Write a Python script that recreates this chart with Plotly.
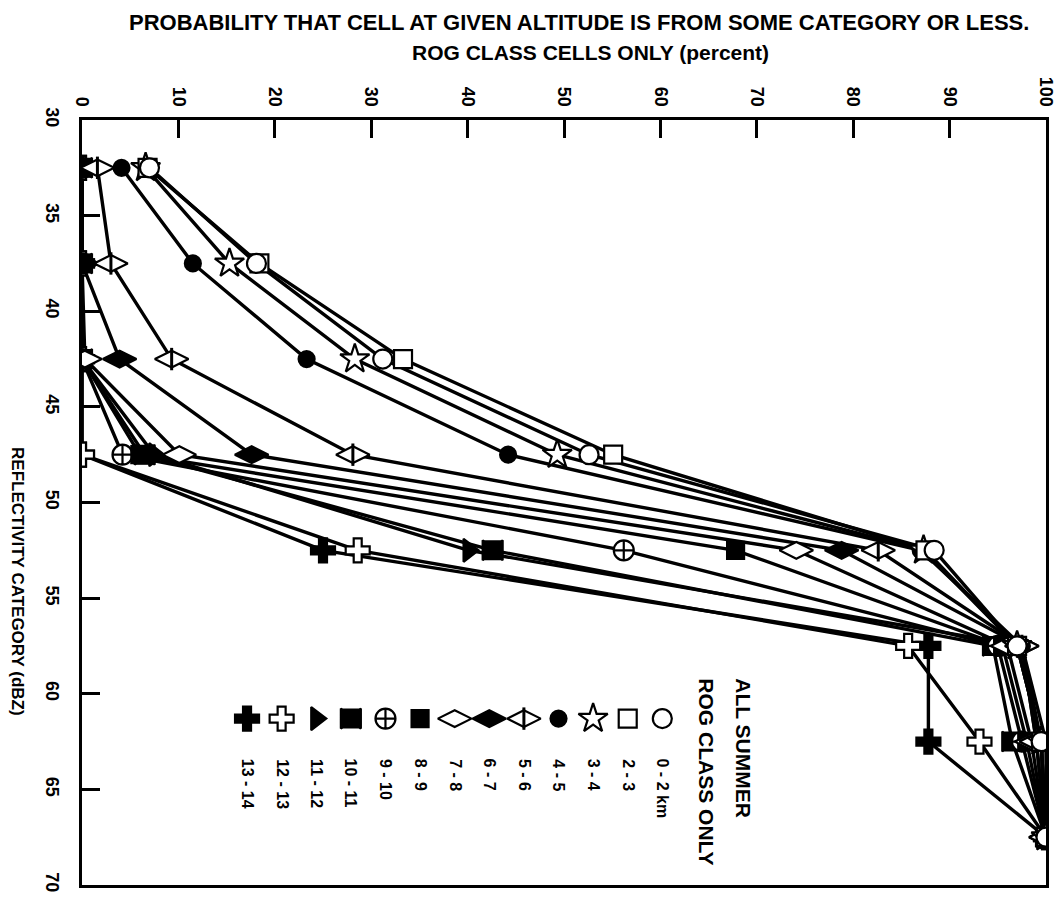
import plotly.graph_objects as go

# ---------------- data ----------------
dbz = [32.5, 37.5, 42.5, 47.5, 52.5, 57.5, 62.5, 67.5]
alt_labels = ["0 - 2 km", "2 - 3", "3 - 4", "4 - 5", "5 - 6", "6 - 7", "7 - 8",
              "8 - 9", "9 - 10", "10 - 11", "11 - 12", "12 - 13", "13 - 14"]
p_0_2   = [7.0, 18.1, 31.2, 52.6, 88.4, 97.0, 99.5, 100]
p_2_3   = [6.8, 18.4, 33.3, 55.1, 87.5, 97.0, 99.5, 100]
p_3_4   = [6.6, 15.3, 28.3, 49.3, 87.3, 97.0, 99.5, 100]
p_4_5   = [4.1, 11.5, 23.3, 44.2, 87.0, 97.5, 99.5, 100]
p_5_6   = [1.6, 3.0, 9.3, 28.1, 82.6, 97.5, 99.0, 100]
p_6_7   = [0.0, 0.0, 3.9, 17.6, 78.8, 97.5, 99.0, 100]
p_7_8   = [0.0, 0.0, 0.3, 10.1, 74.1, 96.0, 98.5, 100]
p_8_9   = [0.0, 0.0, 0.0, 6.0, 67.8, 95.5, 98.0, 100]
p_9_10  = [0.0, 0.0, 0.0, 4.2, 56.2, 95.0, 97.5, 100]
p_10_11 = [0.0, 0.0, 0.0, 6.5, 42.6, 94.5, 96.5, 100]
p_11_12 = [0.0, 0.0, 0.0, 7.5, 40.1, 97.5, 100.0, 100]
p_12_13 = [0.0, 0.0, 0.0, 0.0, 28.6, 85.7, 93.1, 100]
p_13_14 = [0.0, 0.0, 0.0, 0.0, 25.0, 87.8, 87.8, 100]
x_ticks = [0, 10, 20, 30, 40, 50, 60, 70, 80, 90, 100]
y_ticks = [30, 35, 40, 45, 50, 55, 60, 65, 70]

series = [p_0_2, p_2_3, p_3_4, p_4_5, p_5_6, p_6_7, p_7_8,
          p_8_9, p_9_10, p_10_11, p_11_12, p_12_13, p_13_14]

# ---------------- styles ----------------
BLK = "black"
WHT = "white"
# (symbol, fill, size, overlay-symbol or None)
styles = [
    ("circle", WHT, 19, None),
    ("square", WHT, 18, None),
    ("star", WHT, 22, None),
    ("circle", BLK, 16, None),
    ("diamond-wide", WHT, 24, "line-ns"),
    ("diamond-wide", BLK, 24, None),
    ("diamond-wide", WHT, 24, None),
    ("square", BLK, 17, None),
    ("circle-cross", WHT, 20, None),
    ("bowtie", BLK, 20, "hourglass"),
    ("triangle-right", BLK, 20, None),
    ("cross", WHT, 20, None),
    ("cross", BLK, 20, None),
]

FONT = "Liberation Sans, Arial, Helvetica, sans-serif"

fig = go.Figure()

# lines first (all series), then markers on top
for vals in reversed(series):
    fig.add_trace(go.Scatter(x=vals, y=dbz, mode="lines",
                             line=dict(color=BLK, width=3.4),
                             showlegend=False, hoverinfo="skip"))


def add_markers(xs, ys, st):
    sym, fill, size, over = st
    fig.add_trace(go.Scatter(x=xs, y=ys, mode="markers",
                             marker=dict(symbol=sym, color=fill, size=size,
                                         line=dict(color=BLK, width=2.2)),
                             showlegend=False, hoverinfo="skip"))
    if over == "line-ns":
        fig.add_trace(go.Scatter(x=xs, y=ys, mode="markers",
                                 marker=dict(symbol="line-ns-open", color=BLK, size=16,
                                             line=dict(color=BLK, width=3)),
                                 showlegend=False, hoverinfo="skip"))
    elif over:
        fig.add_trace(go.Scatter(x=xs, y=ys, mode="markers",
                                 marker=dict(symbol=over, color=BLK, size=size,
                                             line=dict(color=BLK, width=0)),
                                 showlegend=False, hoverinfo="skip"))


for vals, st in zip(reversed(series), reversed(styles)):
    add_markers(vals, dbz, st)

# ---------------- hand-drawn legend (rotated, like the original) ----------------
LEG_X_FIRST = 60.2     # percent position of first entry (0 - 2 km)
LEG_STEP = 3.59        # percent spacing between entries
LEG_Y_MARK = 61.3      # dBZ row of legend markers
LEG_Y_TEXT = 63.3      # dBZ where legend labels start
LEG_Y_HEAD = 59.1      # dBZ where legend heading starts

for i, (lab, st) in enumerate(zip(alt_labels, styles)):
    lx = LEG_X_FIRST - i * LEG_STEP
    add_markers([lx], [LEG_Y_MARK], st)
    fig.add_annotation(x=lx, y=LEG_Y_TEXT, xref="x", yref="y", text="<b>" + lab + "</b>",
                       textangle=90, showarrow=False, xanchor="center", yanchor="top",
                       font=dict(family=FONT, size=16, color=BLK))

for txt, hx in [("<b>ALL SUMMER</b>", 68.6), ("<b>ROG CLASS ONLY</b>", 64.8)]:
    fig.add_annotation(x=hx, y=LEG_Y_HEAD, xref="x", yref="y", text=txt,
                       textangle=90, showarrow=False, xanchor="center", yanchor="top",
                       font=dict(family=FONT, size=21, color=BLK))

# ---------------- titles ----------------
fig.add_annotation(x=0.516, y=1.1462, xref="paper", yref="paper",
                   text="<b>PROBABILITY THAT CELL AT GIVEN ALTITUDE IS FROM SOME CATEGORY OR LESS.</b>",
                   showarrow=False, xanchor="center", yanchor="top",
                   font=dict(family=FONT, size=22, color=BLK))
fig.add_annotation(x=0.527, y=1.0876, xref="paper", yref="paper",
                   text="<b>ROG CLASS CELLS ONLY (percent)</b>",
                   showarrow=False, xanchor="center", yanchor="middle",
                   font=dict(family=FONT, size=21, color=BLK))
fig.add_annotation(x=-0.0664, y=0.396, xref="paper", yref="paper",
                   text="<b>REFLECTIVITY CATEGORY (dBZ)</b>", textangle=90,
                   showarrow=False, xanchor="center", yanchor="middle",
                   font=dict(family=FONT, size=17, color=BLK))

axis_font = dict(family=FONT, size=18, color=BLK, weight="bold")
fig.update_xaxes(range=[0, 100], side="top", tickvals=x_ticks, ticks="inside",
                 ticklen=18, tickwidth=3, tickcolor=BLK, showline=True, linecolor=BLK,
                 linewidth=3, mirror=True, showgrid=False, zeroline=False,
                 tickangle=90, tickfont=axis_font, ticklabelstandoff=4, automargin=False)
fig.update_yaxes(range=[70, 30], tickvals=y_ticks, ticks="inside",
                 ticklen=18, tickwidth=3, tickcolor=BLK, showline=True, linecolor=BLK,
                 linewidth=3, mirror=True, showgrid=False, zeroline=False,
                 tickangle=90, tickfont=axis_font, ticklabelstandoff=11, automargin=False)

# the page adds an 8 px body margin, so the figure is 8 px smaller and margins shifted
fig.update_layout(width=1055, height=903, plot_bgcolor=WHT, paper_bgcolor=WHT,
                  margin=dict(l=74, r=17, t=112, b=26), showlegend=False)

fig.write_html("out.html")
